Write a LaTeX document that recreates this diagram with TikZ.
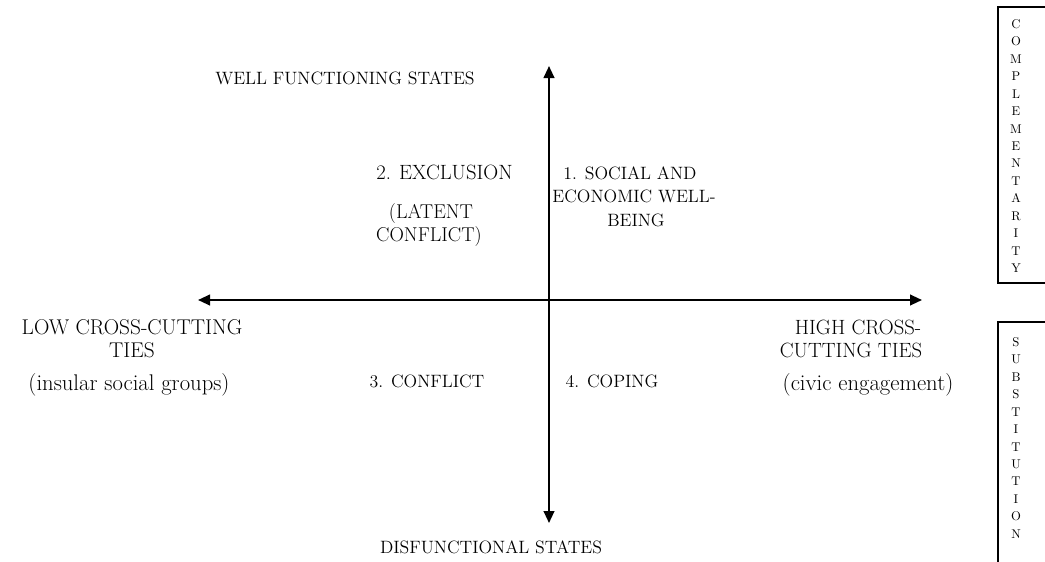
\documentclass[tikz,border=0pt]{standalone}
\usetikzlibrary{arrows.meta}
\begin{document}
\begin{tikzpicture}[x=0.75pt,y=-0.75pt,
  lbl/.style={inner sep=0pt,anchor=base,font=\fontsize{13.4}{16}\selectfont},
  side/.style={inner sep=0pt,anchor=base,font=\fontsize{15.5}{18}\selectfont},
  paren/.style={inner sep=0pt,anchor=base,font=\fontsize{17}{20}\selectfont},
  axis/.style={line width=1.5pt,{Triangle[length=9pt,width=8pt]}-{Triangle[length=9pt,width=8pt]}},
  sidebox/.style={line width=1.1pt},
  vert/.style={inner sep=0pt,anchor=north,align=center,font=\fontsize{9.5}{13.1}\selectfont}]
\useasboundingbox (0,0) rectangle (1045,561);
% axes
\coordinate (hl) at (198,300);
\coordinate (hr) at (922,300);
\coordinate (vt) at (549,66);
\coordinate (vb) at (549,523);
\draw[axis] (hl) -- (hr);
\draw[axis] (vt) -- (vb);
% axis labels
\node[lbl] (top) at (345,84) {WELL FUNCTIONING STATES};
\node[lbl] (bot) at (491,553) {DISFUNCTIONAL STATES};
\node[side,font=\fontsize{16}{18}\selectfont] (l1) at (132,334) {LOW CROSS-CUTTING};
\node[side,font=\fontsize{16}{18}\selectfont] (l2) at (132,357) {TIES};
\node[paren] (l3) at (129,390) {(insular social groups)};
\node[side] (r1) at (858,334) {HIGH CROSS-};
\node[side] (r2) at (851,357) {CUTTING TIES};
\node[paren] (r3) at (868,390) {(civic engagement)};
% quadrants
\begin{scope}
\clip (0,0) rectangle (521,561);
\node[side,anchor=base west,font=\fontsize{15.5}{18}\selectfont] (q2a) at (376,179) {2. EXCLUSION};
\end{scope}
\node[side,font=\fontsize{15}{18}\selectfont] (q2b) at (431,218) {(LATENT};
\node[side,font=\fontsize{15}{18}\selectfont] (q2c) at (429,241) {CONFLICT)};
\node[lbl] (q1a) at (630,179) {1. SOCIAL AND};
\node[lbl] (q1b) at (634,202) {ECONOMIC WELL-};
\node[lbl] (q1c) at (636,226) {BEING};
\node[lbl] (q3) at (427,387) {3. CONFLICT};
\node[lbl] (q4) at (612,387) {4. COPING};
% side boxes
\draw[sidebox] (1047,7) -- (998,7) -- (998,283) -- (1047,283);
\draw[sidebox] (1047,322) -- (998,322) -- (998,563);
\node[vert] (comp) at (1016,19) {C\\O\\M\\P\\L\\E\\M\\E\\N\\T\\A\\R\\I\\T\\Y};
\node[vert] (subs) at (1016,337) {S\\U\\B\\S\\T\\I\\T\\U\\T\\I\\O\\N};
\end{tikzpicture}
\end{document}
